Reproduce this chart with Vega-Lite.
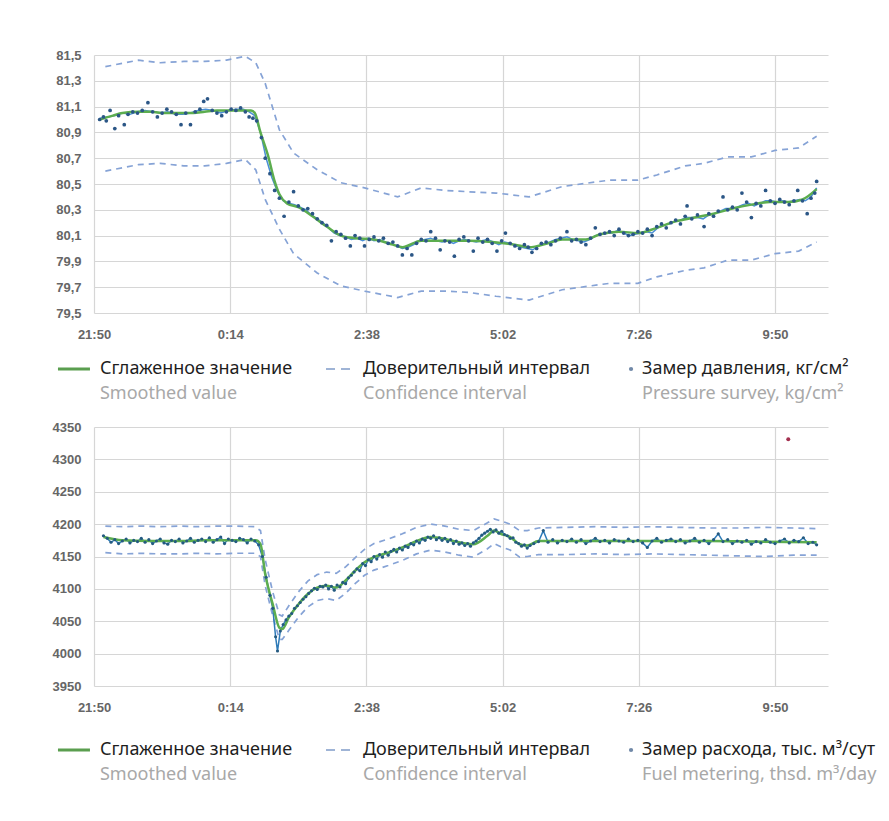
{
  "$schema": "https://vega.github.io/schema/vega-lite/v6.json",
  "background": "white",
  "padding": {"left": 51, "top": 49, "right": 0, "bottom": 0},
  "config": {
    "view": {"stroke": null},
    "font": "Noto Sans",
    "axis": {"labelFont": "Liberation Sans", "labelFontSize": 13, "labelColor": "#666666", "labelFontWeight": "bold", "gridColor": "#d6d6d6", "gridWidth": 1.2, "ticks": false, "domain": false, "labelFlush": false}
  },
  "datasets": {
    "pSurvey": [
      {"m":6,"v":81.00},{"m":10,"v":81.02},{"m":13,"v":80.99},{"m":17,"v":81.07},{"m":22,"v":80.93},{"m":26,"v":81.03},{"m":32,"v":80.96},{"m":36,"v":81.04},{"m":41,"v":81.06},{"m":46,"v":81.05},{"m":51,"v":81.07},{"m":57,"v":81.13},{"m":62,"v":81.06},{"m":67,"v":81.02},{"m":72,"v":81.05},{"m":77,"v":81.08},{"m":82,"v":81.06},{"m":87,"v":81.04},{"m":92,"v":80.96},{"m":97,"v":81.05},{"m":102,"v":80.96},{"m":107,"v":81.06},{"m":112,"v":81.08},{"m":116,"v":81.14},{"m":120,"v":81.16},{"m":125,"v":81.07},{"m":130,"v":81.05},{"m":135,"v":81.03},{"m":140,"v":81.06},{"m":145,"v":81.08},{"m":150,"v":81.07},{"m":155,"v":81.09},{"m":160,"v":81.06},{"m":164,"v":81.02},{"m":168,"v":81.01},{"m":172,"v":80.99},{"m":177,"v":80.86},{"m":181,"v":80.70},{"m":186,"v":80.58},{"m":191,"v":80.45},{"m":196,"v":80.39},{"m":201,"v":80.25},{"m":206,"v":80.36},{"m":211,"v":80.44},{"m":216,"v":80.33},{"m":221,"v":80.30},{"m":226,"v":80.31},{"m":231,"v":80.27},{"m":236,"v":80.23},{"m":241,"v":80.20},{"m":246,"v":80.18},{"m":251,"v":80.06},{"m":256,"v":80.13},{"m":261,"v":80.11},{"m":266,"v":80.08},{"m":271,"v":80.02},{"m":276,"v":80.10},{"m":281,"v":80.08},{"m":286,"v":80.02},{"m":291,"v":80.07},{"m":296,"v":80.09},{"m":301,"v":80.06},{"m":306,"v":80.08},{"m":311,"v":80.04},{"m":316,"v":80.05},{"m":321,"v":80.02},{"m":326,"v":79.95},{"m":331,"v":80.00},{"m":336,"v":79.95},{"m":341,"v":80.04},{"m":346,"v":80.07},{"m":351,"v":80.06},{"m":356,"v":80.13},{"m":361,"v":80.08},{"m":366,"v":79.99},{"m":371,"v":80.06},{"m":376,"v":80.05},{"m":381,"v":79.94},{"m":386,"v":80.07},{"m":391,"v":80.09},{"m":396,"v":80.06},{"m":401,"v":79.98},{"m":406,"v":80.08},{"m":411,"v":80.05},{"m":416,"v":80.07},{"m":421,"v":80.04},{"m":426,"v":79.98},{"m":431,"v":80.06},{"m":435,"v":80.12},{"m":440,"v":80.04},{"m":445,"v":80.02},{"m":450,"v":80.00},{"m":455,"v":80.03},{"m":459,"v":80.01},{"m":463,"v":79.97},{"m":468,"v":80.00},{"m":473,"v":80.04},{"m":478,"v":80.05},{"m":483,"v":80.03},{"m":488,"v":80.06},{"m":493,"v":80.08},{"m":500,"v":80.13},{"m":505,"v":80.06},{"m":510,"v":80.07},{"m":515,"v":80.05},{"m":520,"v":80.03},{"m":525,"v":80.08},{"m":530,"v":80.16},{"m":535,"v":80.11},{"m":540,"v":80.12},{"m":545,"v":80.13},{"m":550,"v":80.10},{"m":555,"v":80.15},{"m":560,"v":80.12},{"m":565,"v":80.10},{"m":570,"v":80.11},{"m":575,"v":80.13},{"m":580,"v":80.12},{"m":585,"v":80.15},{"m":590,"v":80.10},{"m":595,"v":80.17},{"m":600,"v":80.19},{"m":605,"v":80.16},{"m":610,"v":80.20},{"m":615,"v":80.22},{"m":620,"v":80.19},{"m":625,"v":80.25},{"m":627,"v":80.33},{"m":632,"v":80.23},{"m":638,"v":80.26},{"m":645,"v":80.17},{"m":650,"v":80.27},{"m":655,"v":80.25},{"m":660,"v":80.29},{"m":665,"v":80.40},{"m":670,"v":80.30},{"m":675,"v":80.32},{"m":680,"v":80.30},{"m":685,"v":80.43},{"m":690,"v":80.36},{"m":695,"v":80.24},{"m":700,"v":80.35},{"m":705,"v":80.33},{"m":710,"v":80.45},{"m":715,"v":80.37},{"m":720,"v":80.35},{"m":725,"v":80.38},{"m":730,"v":80.36},{"m":735,"v":80.34},{"m":740,"v":80.37},{"m":744,"v":80.45},{"m":749,"v":80.37},{"m":754,"v":80.27},{"m":758,"v":80.39},{"m":762,"v":80.43},{"m":764,"v":80.52}
    ],
    "pFilt": [
      {"m":6,"v":81.01},{"m":14,"v":81.02},{"m":22,"v":81.03},{"m":30,"v":81.05},{"m":38,"v":81.04},{"m":46,"v":81.06},{"m":54,"v":81.07},{"m":62,"v":81.06},{"m":70,"v":81.05},{"m":78,"v":81.06},{"m":86,"v":81.04},{"m":94,"v":81.04},{"m":102,"v":81.05},{"m":110,"v":81.07},{"m":118,"v":81.08},{"m":126,"v":81.07},{"m":134,"v":81.05},{"m":142,"v":81.07},{"m":150,"v":81.08},{"m":158,"v":81.08},{"m":164,"v":81.06},{"m":170,"v":81.03},{"m":176,"v":80.90},{"m":182,"v":80.70},{"m":188,"v":80.55},{"m":194,"v":80.44},{"m":200,"v":80.37},{"m":206,"v":80.35},{"m":212,"v":80.34},{"m":218,"v":80.32},{"m":224,"v":80.30},{"m":230,"v":80.26},{"m":236,"v":80.23},{"m":242,"v":80.20},{"m":248,"v":80.16},{"m":254,"v":80.12},{"m":260,"v":80.10},{"m":266,"v":80.09},{"m":272,"v":80.07},{"m":278,"v":80.08},{"m":284,"v":80.06},{"m":290,"v":80.08},{"m":296,"v":80.06},{"m":302,"v":80.07},{"m":308,"v":80.05},{"m":314,"v":80.04},{"m":320,"v":80.02},{"m":326,"v":80.00},{"m":332,"v":80.01},{"m":338,"v":80.03},{"m":344,"v":80.06},{"m":350,"v":80.07},{"m":356,"v":80.08},{"m":362,"v":80.06},{"m":368,"v":80.05},{"m":374,"v":80.06},{"m":380,"v":80.04},{"m":386,"v":80.06},{"m":392,"v":80.07},{"m":398,"v":80.06},{"m":404,"v":80.05},{"m":410,"v":80.06},{"m":416,"v":80.07},{"m":422,"v":80.05},{"m":428,"v":80.03},{"m":434,"v":80.05},{"m":440,"v":80.04},{"m":446,"v":80.02},{"m":452,"v":80.01},{"m":458,"v":80.00},{"m":464,"v":79.99},{"m":470,"v":80.02},{"m":476,"v":80.04},{"m":482,"v":80.05},{"m":488,"v":80.07},{"m":494,"v":80.08},{"m":500,"v":80.09},{"m":506,"v":80.07},{"m":512,"v":80.06},{"m":518,"v":80.05},{"m":524,"v":80.07},{"m":530,"v":80.10},{"m":536,"v":80.11},{"m":542,"v":80.12},{"m":548,"v":80.12},{"m":554,"v":80.14},{"m":560,"v":80.12},{"m":566,"v":80.10},{"m":572,"v":80.11},{"m":578,"v":80.12},{"m":584,"v":80.13},{"m":590,"v":80.12},{"m":596,"v":80.16},{"m":602,"v":80.18},{"m":608,"v":80.19},{"m":614,"v":80.21},{"m":620,"v":80.22},{"m":626,"v":80.24},{"m":632,"v":80.24},{"m":638,"v":80.24},{"m":644,"v":80.23},{"m":650,"v":80.26},{"m":656,"v":80.27},{"m":662,"v":80.29},{"m":668,"v":80.31},{"m":674,"v":80.31},{"m":680,"v":80.32},{"m":686,"v":80.34},{"m":692,"v":80.35},{"m":698,"v":80.33},{"m":704,"v":80.35},{"m":710,"v":80.37},{"m":716,"v":80.37},{"m":722,"v":80.36},{"m":728,"v":80.37},{"m":734,"v":80.36},{"m":740,"v":80.37},{"m":746,"v":80.38},{"m":752,"v":80.37},{"m":758,"v":80.40},{"m":764,"v":80.47}
    ],
    "pSmooth": [
      {"m":6,"v":81.00},{"m":20,"v":81.03},{"m":30,"v":81.05},{"m":47,"v":81.06},{"m":60,"v":81.06},{"m":75,"v":81.05},{"m":90,"v":81.05},{"m":105,"v":81.05},{"m":117,"v":81.06},{"m":130,"v":81.07},{"m":146,"v":81.07},{"m":160,"v":81.07},{"m":166,"v":81.07},{"m":170,"v":81.05},{"m":176,"v":80.90},{"m":184,"v":80.72},{"m":191,"v":80.52},{"m":196,"v":80.42},{"m":204,"v":80.35},{"m":216,"v":80.32},{"m":231,"v":80.25},{"m":246,"v":80.17},{"m":261,"v":80.10},{"m":276,"v":80.08},{"m":296,"v":80.07},{"m":316,"v":80.03},{"m":326,"v":80.01},{"m":346,"v":80.06},{"m":371,"v":80.06},{"m":396,"v":80.06},{"m":421,"v":80.05},{"m":445,"v":80.03},{"m":460,"v":80.01},{"m":480,"v":80.04},{"m":495,"v":80.07},{"m":520,"v":80.07},{"m":535,"v":80.11},{"m":555,"v":80.13},{"m":575,"v":80.12},{"m":595,"v":80.16},{"m":615,"v":80.21},{"m":635,"v":80.24},{"m":655,"v":80.27},{"m":675,"v":80.31},{"m":695,"v":80.34},{"m":715,"v":80.36},{"m":734,"v":80.36},{"m":749,"v":80.38},{"m":764,"v":80.46}
    ],
    "pCI": [
      {"m":12,"lo":80.60,"hi":81.41},{"m":47,"lo":80.65,"hi":81.46},{"m":70,"lo":80.66,"hi":81.44},{"m":95,"lo":80.64,"hi":81.45},{"m":117,"lo":80.64,"hi":81.45},{"m":140,"lo":80.66,"hi":81.46},{"m":160,"lo":80.69,"hi":81.49},{"m":171,"lo":80.61,"hi":81.44},{"m":181,"lo":80.38,"hi":81.28},{"m":196,"lo":80.15,"hi":80.92},{"m":211,"lo":79.96,"hi":80.74},{"m":236,"lo":79.81,"hi":80.61},{"m":261,"lo":79.71,"hi":80.51},{"m":286,"lo":79.67,"hi":80.47},{"m":321,"lo":79.62,"hi":80.40},{"m":346,"lo":79.67,"hi":80.47},{"m":371,"lo":79.67,"hi":80.45},{"m":396,"lo":79.66,"hi":80.44},{"m":425,"lo":79.63,"hi":80.43},{"m":460,"lo":79.60,"hi":80.40},{"m":495,"lo":79.68,"hi":80.48},{"m":545,"lo":79.73,"hi":80.53},{"m":575,"lo":79.73,"hi":80.53},{"m":595,"lo":79.78,"hi":80.57},{"m":625,"lo":79.83,"hi":80.64},{"m":645,"lo":79.85,"hi":80.66},{"m":670,"lo":79.91,"hi":80.71},{"m":695,"lo":79.91,"hi":80.71},{"m":720,"lo":79.96,"hi":80.76},{"m":745,"lo":79.98,"hi":80.78},{"m":764,"lo":80.05,"hi":80.87}
    ],
    "fSurvey": [
      {"m":10,"v":4182},{"m":14,"v":4178},{"m":18,"v":4172},{"m":22,"v":4176},{"m":26,"v":4170},{"m":30,"v":4174},{"m":34,"v":4177},{"m":38,"v":4171},{"m":42,"v":4175},{"m":46,"v":4173},{"m":50,"v":4178},{"m":54,"v":4172},{"m":58,"v":4176},{"m":62,"v":4170},{"m":66,"v":4174},{"m":70,"v":4177},{"m":74,"v":4171},{"m":78,"v":4169},{"m":82,"v":4175},{"m":86,"v":4173},{"m":90,"v":4177},{"m":94,"v":4171},{"m":98,"v":4174},{"m":102,"v":4178},{"m":106,"v":4172},{"m":110,"v":4175},{"m":114,"v":4177},{"m":118,"v":4173},{"m":122,"v":4179},{"m":126,"v":4172},{"m":130,"v":4176},{"m":134,"v":4180},{"m":138,"v":4170},{"m":142,"v":4177},{"m":146,"v":4175},{"m":150,"v":4173},{"m":154,"v":4178},{"m":158,"v":4176},{"m":162,"v":4171},{"m":166,"v":4177},{"m":170,"v":4174},{"m":174,"v":4168},{"m":178,"v":4150},{"m":182,"v":4118},{"m":186,"v":4090},{"m":189,"v":4070},{"m":192,"v":4026},{"m":194,"v":4004},{"m":197,"v":4035},{"m":200,"v":4045},{"m":203,"v":4052},{"m":206,"v":4058},{"m":209,"v":4062},{"m":212,"v":4070},{"m":215,"v":4074},{"m":218,"v":4079},{"m":221,"v":4084},{"m":224,"v":4088},{"m":227,"v":4093},{"m":230,"v":4097},{"m":233,"v":4101},{"m":236,"v":4099},{"m":239,"v":4104},{"m":242,"v":4103},{"m":245,"v":4106},{"m":248,"v":4100},{"m":251,"v":4104},{"m":254,"v":4098},{"m":257,"v":4106},{"m":260,"v":4103},{"m":263,"v":4110},{"m":266,"v":4108},{"m":269,"v":4117},{"m":272,"v":4121},{"m":275,"v":4126},{"m":278,"v":4131},{"m":281,"v":4128},{"m":284,"v":4139},{"m":287,"v":4136},{"m":290,"v":4145},{"m":293,"v":4142},{"m":296,"v":4150},{"m":299,"v":4146},{"m":302,"v":4153},{"m":305,"v":4149},{"m":308,"v":4157},{"m":311,"v":4152},{"m":314,"v":4158},{"m":317,"v":4161},{"m":320,"v":4157},{"m":323,"v":4163},{"m":326,"v":4160},{"m":329,"v":4166},{"m":332,"v":4164},{"m":335,"v":4170},{"m":338,"v":4168},{"m":341,"v":4174},{"m":344,"v":4171},{"m":347,"v":4177},{"m":350,"v":4175},{"m":353,"v":4180},{"m":356,"v":4178},{"m":359,"v":4182},{"m":362,"v":4176},{"m":365,"v":4179},{"m":368,"v":4175},{"m":371,"v":4178},{"m":374,"v":4173},{"m":377,"v":4176},{"m":380,"v":4170},{"m":383,"v":4174},{"m":386,"v":4169},{"m":389,"v":4171},{"m":392,"v":4167},{"m":395,"v":4170},{"m":398,"v":4166},{"m":401,"v":4171},{"m":404,"v":4174},{"m":407,"v":4178},{"m":410,"v":4183},{"m":413,"v":4186},{"m":416,"v":4189},{"m":419,"v":4192},{"m":422,"v":4188},{"m":425,"v":4191},{"m":428,"v":4186},{"m":431,"v":4189},{"m":434,"v":4184},{"m":437,"v":4182},{"m":440,"v":4178},{"m":443,"v":4179},{"m":446,"v":4172},{"m":449,"v":4170},{"m":452,"v":4166},{"m":455,"v":4168},{"m":458,"v":4163},{"m":461,"v":4167},{"m":465,"v":4170},{"m":470,"v":4173},{"m":475,"v":4190},{"m":480,"v":4172},{"m":485,"v":4176},{"m":490,"v":4171},{"m":495,"v":4175},{"m":500,"v":4173},{"m":505,"v":4177},{"m":510,"v":4172},{"m":515,"v":4176},{"m":520,"v":4170},{"m":525,"v":4174},{"m":530,"v":4178},{"m":535,"v":4173},{"m":540,"v":4175},{"m":545,"v":4171},{"m":550,"v":4176},{"m":555,"v":4174},{"m":560,"v":4172},{"m":565,"v":4177},{"m":570,"v":4173},{"m":575,"v":4175},{"m":580,"v":4171},{"m":585,"v":4164},{"m":590,"v":4174},{"m":595,"v":4178},{"m":600,"v":4172},{"m":605,"v":4175},{"m":610,"v":4177},{"m":615,"v":4173},{"m":620,"v":4176},{"m":625,"v":4171},{"m":630,"v":4174},{"m":635,"v":4178},{"m":640,"v":4172},{"m":645,"v":4175},{"m":650,"v":4170},{"m":655,"v":4176},{"m":660,"v":4185},{"m":665,"v":4173},{"m":670,"v":4176},{"m":675,"v":4170},{"m":680,"v":4174},{"m":685,"v":4172},{"m":690,"v":4175},{"m":695,"v":4169},{"m":700,"v":4173},{"m":705,"v":4171},{"m":710,"v":4176},{"m":715,"v":4172},{"m":720,"v":4170},{"m":725,"v":4174},{"m":730,"v":4177},{"m":735,"v":4171},{"m":740,"v":4175},{"m":745,"v":4173},{"m":750,"v":4179},{"m":755,"v":4170},{"m":760,"v":4172},{"m":764,"v":4168}
    ],
    "fSmooth": [
      {"m":10,"v":4180},{"m":30,"v":4175},{"m":60,"v":4174},{"m":90,"v":4174},{"m":120,"v":4175},{"m":150,"v":4175},{"m":171,"v":4175},{"m":176,"v":4169},{"m":181,"v":4123},{"m":189,"v":4076},{"m":196,"v":4040},{"m":199,"v":4038},{"m":206,"v":4056},{"m":216,"v":4076},{"m":226,"v":4092},{"m":236,"v":4102},{"m":246,"v":4105},{"m":256,"v":4102},{"m":266,"v":4113},{"m":276,"v":4128},{"m":286,"v":4141},{"m":296,"v":4149},{"m":311,"v":4156},{"m":326,"v":4164},{"m":341,"v":4174},{"m":356,"v":4180},{"m":371,"v":4177},{"m":386,"v":4172},{"m":401,"v":4169},{"m":416,"v":4182},{"m":423,"v":4190},{"m":430,"v":4185},{"m":440,"v":4180},{"m":450,"v":4169},{"m":458,"v":4167},{"m":470,"v":4174},{"m":500,"v":4174},{"m":550,"v":4174},{"m":600,"v":4174},{"m":650,"v":4174},{"m":700,"v":4173},{"m":764,"v":4172}
    ],
    "fCI": [
      {"m":12,"lo":4156,"hi":4197},{"m":30,"lo":4154,"hi":4196},{"m":50,"lo":4155,"hi":4197},{"m":70,"lo":4154,"hi":4196},{"m":90,"lo":4154,"hi":4197},{"m":110,"lo":4155,"hi":4196},{"m":130,"lo":4154,"hi":4197},{"m":150,"lo":4155,"hi":4197},{"m":170,"lo":4155,"hi":4196},{"m":176,"lo":4150,"hi":4190},{"m":181,"lo":4105,"hi":4145},{"m":189,"lo":4058,"hi":4095},{"m":196,"lo":4022,"hi":4060},{"m":199,"lo":4022,"hi":4058},{"m":206,"lo":4036,"hi":4074},{"m":216,"lo":4056,"hi":4095},{"m":226,"lo":4072,"hi":4112},{"m":236,"lo":4082,"hi":4122},{"m":246,"lo":4085,"hi":4126},{"m":256,"lo":4082,"hi":4124},{"m":266,"lo":4093,"hi":4134},{"m":276,"lo":4108,"hi":4148},{"m":286,"lo":4121,"hi":4161},{"m":296,"lo":4129,"hi":4170},{"m":311,"lo":4136,"hi":4177},{"m":326,"lo":4144,"hi":4185},{"m":341,"lo":4154,"hi":4195},{"m":356,"lo":4160,"hi":4200},{"m":371,"lo":4157,"hi":4197},{"m":386,"lo":4152,"hi":4192},{"m":401,"lo":4149,"hi":4190},{"m":416,"lo":4162,"hi":4202},{"m":423,"lo":4170,"hi":4208},{"m":430,"lo":4165,"hi":4205},{"m":440,"lo":4160,"hi":4200},{"m":450,"lo":4149,"hi":4190},{"m":458,"lo":4150,"hi":4190},{"m":470,"lo":4153,"hi":4194},{"m":500,"lo":4153,"hi":4195},{"m":530,"lo":4154,"hi":4196},{"m":560,"lo":4153,"hi":4195},{"m":590,"lo":4154,"hi":4196},{"m":620,"lo":4153,"hi":4195},{"m":650,"lo":4152,"hi":4194},{"m":680,"lo":4151,"hi":4194},{"m":710,"lo":4150,"hi":4195},{"m":740,"lo":4152,"hi":4194},{"m":764,"lo":4152,"hi":4193}
    ],
    "fOut": [{"m":734,"v":4331}],
    "legP": [
      {"item":"a","ru":"Сглаженное значение","en":"Smoothed value"},
      {"item":"b","ru":"Доверительный интервал","en":"Confidence interval"},
      {"item":"c","ru":"Замер давления, кг/см²","en":"Pressure survey, kg/cm²"}
    ],
    "legF": [
      {"item":"a","ru":"Сглаженное значение","en":"Smoothed value"},
      {"item":"b","ru":"Доверительный интервал","en":"Confidence interval"},
      {"item":"c","ru":"Замер расхода, тыс. м³/сут","en":"Fuel metering, thsd. m³/day"}
    ]
  },
  "vconcat": [
    {
      "spacing": 19,
      "vconcat": [
        {
          "width": 734,
          "height": 258,
          "encoding": {
            "x": {"field": "m", "type": "quantitative", "title": null,
              "scale": {"domain": [0, 776], "nice": false, "zero": false},
              "axis": {"values": [0, 144, 288, 432, 576, 720], "labelPadding": 15, "labelExpr": "timeFormat(datetime(2000, 0, 1, 21, 50 + datum.value), '%-H:%M')"}}
          },
          "layer": [
            {"data": {"name": "pCI"}, "mark": {"type": "line", "color": "#86a3d6", "strokeWidth": 1.7, "strokeDash": [6, 5]},
             "encoding": {"y": {"field": "hi", "type": "quantitative", "title": null,
               "scale": {"domain": [79.5, 81.5], "nice": false, "zero": false},
               "axis": {"values": [79.5, 79.7, 79.9, 80.1, 80.3, 80.5, 80.7, 80.9, 81.1, 81.3, 81.5], "labelPadding": 13, "labelExpr": "replace(format(datum.value, '.1f'), '.', ',')"}}}},
            {"data": {"name": "pCI"}, "mark": {"type": "line", "color": "#86a3d6", "strokeWidth": 1.7, "strokeDash": [6, 5]},
             "encoding": {"y": {"field": "lo", "type": "quantitative", "title": null,
               "scale": {"domain": [79.5, 81.5], "nice": false, "zero": false},
               "axis": {"values": [79.5, 79.7, 79.9, 80.1, 80.3, 80.5, 80.7, 80.9, 81.1, 81.3, 81.5], "labelPadding": 13, "labelExpr": "replace(format(datum.value, '.1f'), '.', ',')"}}}},
            {"data": {"name": "pFilt"}, "mark": {"type": "line", "color": "#4a8fd6", "strokeWidth": 1.5},
             "encoding": {"y": {"field": "v", "type": "quantitative", "title": null,
               "scale": {"domain": [79.5, 81.5], "nice": false, "zero": false},
               "axis": {"values": [79.5, 79.7, 79.9, 80.1, 80.3, 80.5, 80.7, 80.9, 81.1, 81.3, 81.5], "labelPadding": 13, "labelExpr": "replace(format(datum.value, '.1f'), '.', ',')"}}}},
            {"data": {"name": "pSmooth"}, "mark": {"type": "line", "color": "#5cad4f", "strokeWidth": 2.5, "interpolate": "monotone"},
             "encoding": {"y": {"field": "v", "type": "quantitative", "title": null,
               "scale": {"domain": [79.5, 81.5], "nice": false, "zero": false},
               "axis": {"values": [79.5, 79.7, 79.9, 80.1, 80.3, 80.5, 80.7, 80.9, 81.1, 81.3, 81.5], "labelPadding": 13, "labelExpr": "replace(format(datum.value, '.1f'), '.', ',')"}}}},
            {"data": {"name": "pSurvey"}, "mark": {"type": "circle", "color": "#2b5686", "size": 14, "opacity": 1},
             "encoding": {"y": {"field": "v", "type": "quantitative", "title": null,
               "scale": {"domain": [79.5, 81.5], "nice": false, "zero": false},
               "axis": {"values": [79.5, 79.7, 79.9, 80.1, 80.3, 80.5, 80.7, 80.9, 81.1, 81.3, 81.5], "labelPadding": 13, "labelExpr": "replace(format(datum.value, '.1f'), '.', ',')"}}}}
          ]
        },
        {
          "width": 554,
          "height": 25,
          "data": {"name": "legP"},
          "encoding": {"x": {"field": "item", "type": "nominal", "axis": null, "scale": {"type": "point", "domain": ["a", "b", "c"], "padding": 0.022}}},
          "layer": [
            {"transform": [{"filter": "datum.item != 'b'"}],
             "mark": {"type": "text", "align": "left", "baseline": "middle", "fontSize": 18, "font": "Noto Sans", "color": "#1e1e1e"},
             "encoding": {"y": {"datum": "ru", "type": "nominal", "axis": null, "scale": {"type": "point", "domain": ["ru", "en"], "padding": 0}}, "text": {"field": "ru"}}},
            {"transform": [{"filter": "datum.item != 'b'"}],
             "mark": {"type": "text", "align": "left", "baseline": "middle", "fontSize": 18, "font": "Noto Sans", "color": "#a8a8a8"},
             "encoding": {"y": {"datum": "en", "type": "nominal", "axis": null, "scale": {"type": "point", "domain": ["ru", "en"], "padding": 0}}, "text": {"field": "en"}}},
            {"transform": [{"filter": "datum.item == 'b'"}],
             "mark": {"type": "text", "align": "left", "baseline": "middle", "fontSize": 18, "font": "Noto Sans", "color": "#1e1e1e", "dx": -8},
             "encoding": {"y": {"datum": "ru", "type": "nominal", "axis": null, "scale": {"type": "point", "domain": ["ru", "en"], "padding": 0}}, "text": {"field": "ru"}}},
            {"transform": [{"filter": "datum.item == 'b'"}],
             "mark": {"type": "text", "align": "left", "baseline": "middle", "fontSize": 18, "font": "Noto Sans", "color": "#a8a8a8", "dx": -8},
             "encoding": {"y": {"datum": "en", "type": "nominal", "axis": null, "scale": {"type": "point", "domain": ["ru", "en"], "padding": 0}}, "text": {"field": "en"}}},
            {"transform": [{"filter": "datum.item == 'a'"}],
             "mark": {"type": "point", "shape": "M-1,0H1", "size": 1024, "filled": false, "stroke": "#5a9e4f", "strokeWidth": 3, "opacity": 1, "xOffset": -26},
             "encoding": {"y": {"datum": "ru", "type": "nominal", "axis": null, "scale": {"type": "point", "domain": ["ru", "en"], "padding": 0}}}},
            {"transform": [{"filter": "datum.item == 'b'"}],
             "mark": {"type": "point", "shape": "M-1,0H1", "size": 576, "filled": false, "stroke": "#9fb4d6", "strokeWidth": 2, "strokeDash": [9, 6], "opacity": 1, "xOffset": -33},
             "encoding": {"y": {"datum": "ru", "type": "nominal", "axis": null, "scale": {"type": "point", "domain": ["ru", "en"], "padding": 0}}}},
            {"transform": [{"filter": "datum.item == 'c'"}],
             "mark": {"type": "circle", "size": 18, "color": "#7189a8", "opacity": 1, "xOffset": -11},
             "encoding": {"y": {"datum": "ru", "type": "nominal", "axis": null, "scale": {"type": "point", "domain": ["ru", "en"], "padding": 0}}}}
          ]
        }
      ]
    },
    {
      "spacing": 27,
      "vconcat": [
        {
          "width": 734,
          "height": 259,
          "encoding": {
            "x": {"field": "m", "type": "quantitative", "title": null,
              "scale": {"domain": [0, 776], "nice": false, "zero": false},
              "axis": {"values": [0, 144, 288, 432, 576, 720], "labelPadding": 15, "labelExpr": "timeFormat(datetime(2000, 0, 1, 21, 50 + datum.value), '%-H:%M')"}}
          },
          "layer": [
            {"data": {"name": "fCI"}, "mark": {"type": "line", "color": "#86a3d6", "strokeWidth": 1.7, "strokeDash": [6, 5]},
             "encoding": {"y": {"field": "hi", "type": "quantitative", "title": null,
               "scale": {"domain": [3950, 4350], "nice": false, "zero": false},
               "axis": {"values": [3950, 4000, 4050, 4100, 4150, 4200, 4250, 4300, 4350], "labelPadding": 13, "format": "d"}}}},
            {"data": {"name": "fCI"}, "mark": {"type": "line", "color": "#86a3d6", "strokeWidth": 1.7, "strokeDash": [6, 5]},
             "encoding": {"y": {"field": "lo", "type": "quantitative", "title": null,
               "scale": {"domain": [3950, 4350], "nice": false, "zero": false},
               "axis": {"values": [3950, 4000, 4050, 4100, 4150, 4200, 4250, 4300, 4350], "labelPadding": 13, "format": "d"}}}},
            {"data": {"name": "fSurvey"}, "mark": {"type": "line", "color": "#2f7bb8", "strokeWidth": 1.5},
             "encoding": {"y": {"field": "v", "type": "quantitative", "title": null,
               "scale": {"domain": [3950, 4350], "nice": false, "zero": false},
               "axis": {"values": [3950, 4000, 4050, 4100, 4150, 4200, 4250, 4300, 4350], "labelPadding": 13, "format": "d"}}}},
            {"data": {"name": "fSmooth"}, "mark": {"type": "line", "color": "#5cad4f", "strokeWidth": 2.5, "interpolate": "monotone"},
             "encoding": {"y": {"field": "v", "type": "quantitative", "title": null,
               "scale": {"domain": [3950, 4350], "nice": false, "zero": false},
               "axis": {"values": [3950, 4000, 4050, 4100, 4150, 4200, 4250, 4300, 4350], "labelPadding": 13, "format": "d"}}}},
            {"data": {"name": "fSurvey"}, "mark": {"type": "circle", "color": "#245a80", "size": 10, "opacity": 1},
             "encoding": {"y": {"field": "v", "type": "quantitative", "title": null,
               "scale": {"domain": [3950, 4350], "nice": false, "zero": false},
               "axis": {"values": [3950, 4000, 4050, 4100, 4150, 4200, 4250, 4300, 4350], "labelPadding": 13, "format": "d"}}}},
            {"data": {"name": "fOut"}, "mark": {"type": "circle", "color": "#a3304f", "size": 16, "opacity": 1},
             "encoding": {"y": {"field": "v", "type": "quantitative", "title": null,
               "scale": {"domain": [3950, 4350], "nice": false, "zero": false},
               "axis": {"values": [3950, 4000, 4050, 4100, 4150, 4200, 4250, 4300, 4350], "labelPadding": 13, "format": "d"}}}}
          ]
        },
        {
          "width": 554,
          "height": 25,
          "data": {"name": "legF"},
          "encoding": {"x": {"field": "item", "type": "nominal", "axis": null, "scale": {"type": "point", "domain": ["a", "b", "c"], "padding": 0.022}}},
          "layer": [
            {"transform": [{"filter": "datum.item != 'b'"}],
             "mark": {"type": "text", "align": "left", "baseline": "middle", "fontSize": 18, "font": "Noto Sans", "color": "#1e1e1e"},
             "encoding": {"y": {"datum": "ru", "type": "nominal", "axis": null, "scale": {"type": "point", "domain": ["ru", "en"], "padding": 0}}, "text": {"field": "ru"}}},
            {"transform": [{"filter": "datum.item != 'b'"}],
             "mark": {"type": "text", "align": "left", "baseline": "middle", "fontSize": 18, "font": "Noto Sans", "color": "#a8a8a8"},
             "encoding": {"y": {"datum": "en", "type": "nominal", "axis": null, "scale": {"type": "point", "domain": ["ru", "en"], "padding": 0}}, "text": {"field": "en"}}},
            {"transform": [{"filter": "datum.item == 'b'"}],
             "mark": {"type": "text", "align": "left", "baseline": "middle", "fontSize": 18, "font": "Noto Sans", "color": "#1e1e1e", "dx": -8},
             "encoding": {"y": {"datum": "ru", "type": "nominal", "axis": null, "scale": {"type": "point", "domain": ["ru", "en"], "padding": 0}}, "text": {"field": "ru"}}},
            {"transform": [{"filter": "datum.item == 'b'"}],
             "mark": {"type": "text", "align": "left", "baseline": "middle", "fontSize": 18, "font": "Noto Sans", "color": "#a8a8a8", "dx": -8},
             "encoding": {"y": {"datum": "en", "type": "nominal", "axis": null, "scale": {"type": "point", "domain": ["ru", "en"], "padding": 0}}, "text": {"field": "en"}}},
            {"transform": [{"filter": "datum.item == 'a'"}],
             "mark": {"type": "point", "shape": "M-1,0H1", "size": 1024, "filled": false, "stroke": "#5a9e4f", "strokeWidth": 3, "opacity": 1, "xOffset": -26},
             "encoding": {"y": {"datum": "ru", "type": "nominal", "axis": null, "scale": {"type": "point", "domain": ["ru", "en"], "padding": 0}}}},
            {"transform": [{"filter": "datum.item == 'b'"}],
             "mark": {"type": "point", "shape": "M-1,0H1", "size": 576, "filled": false, "stroke": "#9fb4d6", "strokeWidth": 2, "strokeDash": [9, 6], "opacity": 1, "xOffset": -33},
             "encoding": {"y": {"datum": "ru", "type": "nominal", "axis": null, "scale": {"type": "point", "domain": ["ru", "en"], "padding": 0}}}},
            {"transform": [{"filter": "datum.item == 'c'"}],
             "mark": {"type": "circle", "size": 18, "color": "#7189a8", "opacity": 1, "xOffset": -11},
             "encoding": {"y": {"datum": "ru", "type": "nominal", "axis": null, "scale": {"type": "point", "domain": ["ru", "en"], "padding": 0}}}}
          ]
        }
      ]
    }
  ],
  "spacing": 18
}
